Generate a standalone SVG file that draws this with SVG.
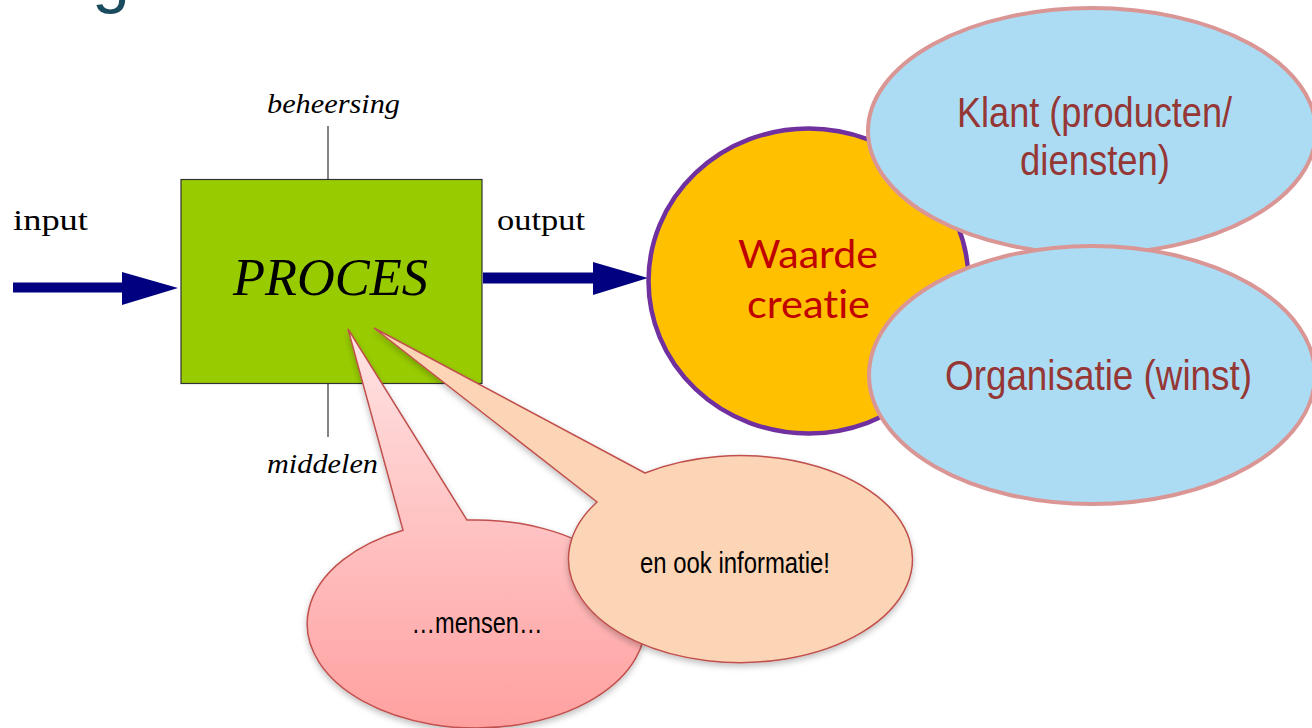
<svg xmlns="http://www.w3.org/2000/svg" width="1312" height="728" viewBox="0 0 1312 728">
  <style>
    .serif { font-family: "Liberation Serif", "Times New Roman", serif; fill: #000; }
    .ital { font-style: italic; }
    .narrow { font-family: "Liberation Sans Narrow", "Liberation Sans", Arial, sans-serif; }
    .calib { font-family: Lato, "Open Sans", sans-serif; fill: #c00000; font-variant-ligatures: none; }
    .blue { fill: #acdcf4; stroke: #d99694; stroke-width: 4; }
    .brown { fill: #953735; }
    .bubble { stroke: #c0504d; stroke-width: 1.5; filter: url(#shadow); }
    .navy { fill: #000080; }
    .thin { stroke: #333; stroke-width: 1.2; fill: none; }
  </style>
  <defs>
    <linearGradient id="pinkGrad" gradientUnits="userSpaceOnUse" x1="0" y1="329" x2="0" y2="728">
      <stop offset="0" stop-color="#ffe4e4"/>
      <stop offset="1" stop-color="#ffa0a0"/>
    </linearGradient>
    <filter id="shadow" x="-10%" y="-10%" width="120%" height="130%">
      <feDropShadow dx="0" dy="3" stdDeviation="3" flood-color="#000" flood-opacity="0.25"/>
    </filter>
  </defs>
  <rect width="1312" height="728" fill="#fff"/>

  <g id="title-fragment">
    <text x="92" y="0" font-family="Liberation Sans, Arial, sans-serif" font-size="68" fill="#1b4b5f">g</text>
  </g>

  <g id="connectors">
    <line class="thin" x1="328" y1="126" x2="328" y2="179"/>
    <line class="thin" x1="328" y1="383" x2="328" y2="437"/>
    <g id="input-arrow">
      <rect class="navy" x="13" y="282.5" width="110" height="10"/>
      <polygon class="navy" points="122,272 178,288 122,305"/>
    </g>
    <g id="output-arrow">
      <rect class="navy" x="483" y="272.5" width="111" height="11"/>
      <polygon class="navy" points="593,262 648,278 593,295"/>
    </g>
  </g>

  <g id="labels">
    <text class="serif ital" x="267" y="113" font-size="28" textLength="133" lengthAdjust="spacingAndGlyphs">beheersing</text>
    <text class="serif ital" x="267" y="473" font-size="28" textLength="111" lengthAdjust="spacingAndGlyphs">middelen</text>
    <text class="serif" x="13" y="230" font-size="30" textLength="75" lengthAdjust="spacingAndGlyphs">input</text>
    <text class="serif" x="497" y="230" font-size="30" textLength="88" lengthAdjust="spacingAndGlyphs">output</text>
  </g>

  <g id="proces">
    <rect x="181" y="179.5" width="301" height="204" fill="#99cc00" stroke="#333" stroke-width="1.2"/>
    <text class="serif ital" x="233" y="295" font-size="52" textLength="195" lengthAdjust="spacingAndGlyphs">PROCES</text>
  </g>

  <g id="bubble-mensen">
    <path class="bubble" fill="url(#pinkGrad)" d="M467,520.1 L348,329 L403,530.2 A169 104 0 1 0 467,520.1 Z"/>
    <text class="narrow" x="477" y="633" font-size="29" text-anchor="middle" textLength="131" lengthAdjust="spacingAndGlyphs">…mensen…</text>
  </g>

  <g id="bubble-informatie">
    <path class="bubble" fill="#fbd5b5" d="M645,473 L374,328 L597,502 A172 103.5 0 1 0 645,473 Z"/>
    <text class="narrow" x="735" y="573" font-size="29" text-anchor="middle" textLength="190" lengthAdjust="spacingAndGlyphs">en ook informatie!</text>
  </g>

  <g id="waarde-creatie">
    <ellipse cx="808.5" cy="281" rx="160" ry="152.5" fill="#ffc000" stroke="#7030a0" stroke-width="4.5"/>
    <text class="calib" x="808" y="268" font-size="39" text-anchor="middle" textLength="140" lengthAdjust="spacingAndGlyphs">Waarde</text>
    <text class="calib" x="808.5" y="318" font-size="39" text-anchor="middle" textLength="123" lengthAdjust="spacingAndGlyphs">creatie</text>
  </g>

  <g id="klant">
    <ellipse class="blue" cx="1092" cy="131" rx="224" ry="123"/>
    <text class="narrow brown" x="1094.5" y="127" font-size="43" text-anchor="middle" textLength="275" lengthAdjust="spacingAndGlyphs">Klant (producten/</text>
    <text class="narrow brown" x="1095" y="175" font-size="43" text-anchor="middle" textLength="150" lengthAdjust="spacingAndGlyphs">diensten)</text>
  </g>

  <g id="organisatie">
    <ellipse class="blue" cx="1092" cy="375" rx="223" ry="129"/>
    <text class="narrow brown" x="1098.5" y="390" font-size="43" text-anchor="middle" textLength="307" lengthAdjust="spacingAndGlyphs">Organisatie (winst)</text>
  </g>
</svg>
